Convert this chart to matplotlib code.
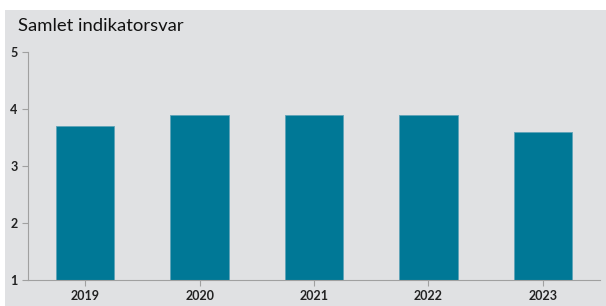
import matplotlib.pyplot as plt
from matplotlib.patches import Rectangle

years = ['2019', '2020', '2021', '2022', '2023']
values = [3.7, 3.9, 3.9, 3.9, 3.6]
yticks = [1, 2, 3, 4, 5]

bg = '#e0e1e3'
bar_color = '#007896'
plt.rcParams['font.family'] = ['Lato', 'DejaVu Sans']

fig = plt.figure(figsize=(6.06, 3.06), dpi=100)
fig.patch.set_facecolor('white')
fig.patches.append(Rectangle((5 / 606, 0), 1, 296 / 306, transform=fig.transFigure,
                             facecolor=bg, edgecolor='none', zorder=-10))

ax = fig.add_axes([28 / 606, 26 / 306, 572 / 606, 228 / 306])
ax.set_facecolor(bg)
x = range(len(years))
ax.bar(x, [v - 1 for v in values], bottom=1, width=0.51, color=bar_color,
       edgecolor='#5fa3b8', linewidth=0.6)
ax.set_xlim(-0.5, 4.5)
ax.set_ylim(1, 5)
ax.set_xticks(list(x))
ax.set_xticklabels(years)
ax.set_yticks(yticks)
for s in ['top', 'right']:
    ax.spines[s].set_visible(False)
for s in ['left', 'bottom']:
    ax.spines[s].set_color('#a0a0a0')
    ax.spines[s].set_linewidth(0.8)
ax.tick_params(colors='#a0a0a0', length=4, width=0.8, labelcolor='#222222', labelsize=9)
for lbl in ax.get_xticklabels() + ax.get_yticklabels():
    lbl.set_fontweight('bold')

fig.text(18 / 606, 1 - 26 / 306, 'Samlet indikatorsvar', fontsize=13.3, color='#111111',
         va='center', ha='left')

fig.savefig('out.png', dpi=100, facecolor=fig.get_facecolor())
